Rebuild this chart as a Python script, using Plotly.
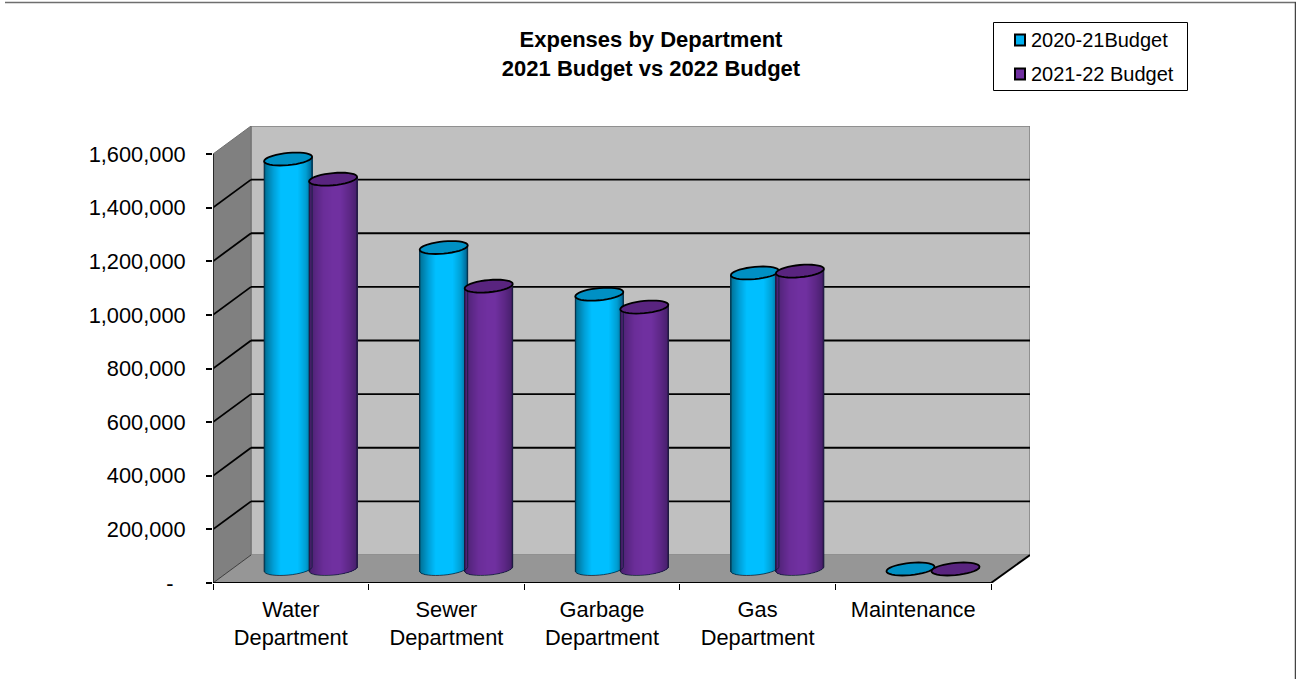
import math
import plotly.graph_objects as go

# ---- data ----
categories = ["Water<br>Department", "Sewer<br>Department", "Garbage<br>Department", "Gas<br>Department", "Maintenance"]
budget_2021 = [1529000, 1199000, 1025000, 1104000, 0]
budget_2022 = [1454000, 1055000, 977000, 1111000, 0]
series_names = ["2020-21Budget", "2021-22 Budget"]
y_ticks = [0, 200000, 400000, 600000, 800000, 1000000, 1200000, 1400000, 1600000]
y_labels = ["-\u00a0\u00a0", "200,000", "400,000", "600,000", "800,000", "1,000,000", "1,200,000", "1,400,000", "1,600,000"]

# ---- geometry of the mock 3D box (pixels) ----
W, H = 1296, 679
FRONT_L, FRONT_R, BACK_R = 213, 991, 1030
BOTTOM, TOP_FRONT, TOP_BACK = 583, 154, 126
DEPTH_Y = BOTTOM - 555          # floor depth, vertical
DEPTH_X = 251 - FRONT_L         # floor depth, horizontal
CYL_SHIFT_X, CYL_SHIFT_Y = 19.8, 14
CYL_A, CYL_B, CYL_TILT = 24, 6.1, 2.2
CYL_OFFSET = 22.5

PX_PER_CAT = (FRONT_R - FRONT_L) / len(categories)
UNITS_PER_PX = y_ticks[-1] / (BOTTOM - TOP_FRONT)
x_range = [-0.5, -0.5 + (BACK_R - FRONT_L) / PX_PER_CAT]
y_range = [0, (BOTTOM - TOP_BACK) * UNITS_PER_PX]
shift_x = CYL_SHIFT_X / PX_PER_CAT
shift_y = CYL_SHIFT_Y * UNITS_PER_PX
depth_x = DEPTH_X / PX_PER_CAT
depth_y = DEPTH_Y * UNITS_PER_PX

FONT = "Liberation Sans, Arial, sans-serif"
TICK_SIZE = 21.8

BLUE_STOPS = [(-1, "#004f6c"), (-0.9, "#0078a0"), (-0.6, "#00a0d8"), (-0.3, "#00bfff"),
              (0.4, "#00bfff"), (0.75, "#009ed2"), (0.95, "#0070a0"), (1, "#004e6c")]
PURPLE_STOPS = [(-1, "#361850"), (-0.9, "#4e2275"), (-0.4, "#6a2d98"), (0, "#7030a0"),
                (0.3, "#7030a0"), (0.7, "#5c2785"), (0.95, "#4a2070"), (1, "#361850")]
CAP_COLORS = ["#0090c4", "#59247f"]


def mix(stops, u):
    for (u0, c0), (u1, c1) in zip(stops, stops[1:]):
        if u <= u1:
            t = (u - u0) / (u1 - u0)
            a = [int(c0[i:i + 2], 16) for i in (1, 3, 5)]
            b = [int(c1[i:i + 2], 16) for i in (1, 3, 5)]
            return "rgb(%d,%d,%d)" % tuple(round(p + (q - p) * t) for p, q in zip(a, b))
    return stops[-1][1]


def px(v):
    return (v - FRONT_L) / (BACK_R - FRONT_L)


def py(v):
    return (BOTTOM - v) / (BOTTOM - TOP_BACK)


def cylinder_trace(name, values, side, stops):
    n = 48
    xs, ys, bases, offs, wids, cols = [], [], [], [], [], []
    step = 2 * CYL_A / n / PX_PER_CAT
    for i, v in enumerate(values):
        for k in range(n):
            u = -1 + (2 * k + 1) / n
            lift = CYL_TILT * u * UNITS_PER_PX
            low = CYL_B * math.sqrt(1 - u * u) * UNITS_PER_PX
            xs.append(i)
            bases.append(lift - low)
            ys.append(v + lift - (lift - low))
            offs.append(side * CYL_OFFSET / PX_PER_CAT + u * CYL_A / PX_PER_CAT - step / 2)
            wids.append(step)
            cols.append(mix(stops, u))
    return go.Bar(name=name, x=xs, y=ys, base=bases, offset=offs, width=wids,
                  marker=dict(color=cols, line=dict(width=0)),
                  xaxis="x2", yaxis="y2", showlegend=False, hoverinfo="skip")


def cap_path(i, v, side):
    cx = i + side * CYL_OFFSET / PX_PER_CAT
    pts = []
    for d in range(0, 360, 10):
        th = math.radians(d)
        pts.append((cx + CYL_A * math.cos(th) / PX_PER_CAT,
                    v + (CYL_B * math.sin(th) + CYL_TILT * math.cos(th)) * UNITS_PER_PX))
    return "M" + " L".join(f"{a:.5f},{b:.1f}" for a, b in pts) + " Z"


def outline_path(i, v, side):
    cx = i + side * CYL_OFFSET / PX_PER_CAT
    pts = [(cx - CYL_A / PX_PER_CAT, v - CYL_TILT * UNITS_PER_PX)]
    for d in range(180, 361, 10):
        th = math.radians(d)
        pts.append((cx + CYL_A * math.cos(th) / PX_PER_CAT,
                    (CYL_B * math.sin(th) + CYL_TILT * math.cos(th)) * UNITS_PER_PX))
    pts.append((cx + CYL_A / PX_PER_CAT, v + CYL_TILT * UNITS_PER_PX))
    return "M" + " L".join(f"{a:.5f},{b:.1f}" for a, b in pts)


fig = go.Figure()
# the front axes carry the tick labels: an empty trace keeps them alive
fig.add_trace(go.Scatter(x=list(range(len(categories))), y=budget_2021, mode="none",
                         xaxis="x", yaxis="y", showlegend=False, hoverinfo="skip"))
fig.add_trace(cylinder_trace(series_names[0], budget_2021, -1, BLUE_STOPS))
fig.add_trace(cylinder_trace(series_names[1], budget_2022, 1, PURPLE_STOPS))

shapes = []
xl, xr = x_range[0], x_range[0] + (FRONT_R - FRONT_L) / PX_PER_CAT
yb = 0
ytf = y_ticks[-1]

# walls and floor
shapes.append(dict(type="rect", x0=xl + depth_x, x1=x_range[1], y0=depth_y, y1=y_range[1],
                   fillcolor="#c0c0c0", line=dict(color="#808080", width=1.5), layer="below"))
shapes.append(dict(type="path", path=f"M{xl},{yb} L{xl + depth_x},{depth_y} L{xl + depth_x},{y_range[1]} L{xl},{ytf} Z",
                   fillcolor="#808080", line=dict(color="#707070", width=1), layer="below"))
shapes.append(dict(type="path", path=f"M{xl},{yb} L{xl + depth_x},{depth_y} L{x_range[1]},{depth_y} L{xr},{yb} Z",
                   fillcolor="#969696", line=dict(width=0), layer="below"))
# grid lines on back and side wall
for t in y_ticks[1:-1]:
    shapes.append(dict(type="line", x0=xl + depth_x, x1=x_range[1], y0=t + depth_y, y1=t + depth_y,
                       line=dict(color="#000000", width=1.8), layer="below"))
    shapes.append(dict(type="line", x0=xl, x1=xl + depth_x, y0=t, y1=t + depth_y,
                       line=dict(color="#000000", width=1.8), layer="below"))
# box edges
shapes.append(dict(type="line", x0=xl, x1=xl + depth_x, y0=0, y1=depth_y, line=dict(color="#404040", width=1), layer="below"))
shapes.append(dict(type="line", x0=xr, x1=x_range[1], y0=0, y1=depth_y, line=dict(color="#000000", width=2), layer="below"))
shapes.append(dict(type="line", x0=xl, x1=xl, y0=0, y1=ytf, line=dict(color="#202020", width=1.8), layer="below"))
shapes.append(dict(type="line", x0=xl, x1=xr, y0=0, y1=0, line=dict(color="#000000", width=2), layer="below"))

# cylinder outlines and caps, in the shifted axes
for side, values, color in ((-1, budget_2021, CAP_COLORS[0]), (1, budget_2022, CAP_COLORS[1])):
    for i, v in enumerate(values):
        if v > 0:
            shapes.append(dict(type="path", path=outline_path(i, v, side), xref="x2", yref="y2",
                               line=dict(color="rgba(10,30,50,0.75)", width=1), layer="above"))
        shapes.append(dict(type="path", path=cap_path(i, v, side), xref="x2", yref="y2",
                           fillcolor=color, line=dict(color="#000000", width=1.8), layer="above"))

# outer frame, top and right only
shapes.append(dict(type="line", xref="paper", yref="paper", x0=px(5), x1=px(W), y0=py(2.5), y1=py(2.5),
                   line=dict(color="#6e6e6e", width=1.5)))
shapes.append(dict(type="line", xref="paper", yref="paper", x0=px(W - 0.5), x1=px(W - 0.5), y0=py(2), y1=py(H),
                   line=dict(color="#444444", width=1.5)))

# legend box
shapes.append(dict(type="rect", xref="paper", yref="paper", x0=px(993.5), x1=px(1187.5), y0=py(22.5), y1=py(90.5),
                   fillcolor="#ffffff", line=dict(color="#000000", width=1)))
annotations = []
for name, color, cy in zip(series_names, ["#00b0f0", "#7030a0"], [40, 74]):
    shapes.append(dict(type="rect", xref="paper", yref="paper", x0=px(1015), x1=px(1025), y0=py(cy - 5.5), y1=py(cy + 5.5),
                       fillcolor=color, line=dict(color="#000000", width=2)))
    annotations.append(dict(xref="paper", yref="paper", x=px(1030), y=py(cy), text=name, showarrow=False,
                            xanchor="left", yanchor="middle", xshift=-1, font=dict(family=FONT, size=20, color="#000000")))

fig.update_layout(
    width=W, height=H, autosize=False,
    paper_bgcolor="#ffffff", plot_bgcolor="#ffffff",
    margin=dict(l=FRONT_L, r=W - BACK_R, t=TOP_BACK, b=H - BOTTOM, pad=0),
    barmode="overlay", bargap=0, showlegend=False,
    font=dict(family=FONT, size=TICK_SIZE, color="#000000"),
    title=dict(text="Expenses by Department<br>2021 Budget vs 2022 Budget",
               x=651 / W, xanchor="center", y=1 - 47 / H, yanchor="middle",
               font=dict(family=FONT, size=22, color="#000000", weight="bold")),
    xaxis=dict(range=x_range, tickmode="array", tickvals=list(range(len(categories))), ticktext=categories,
               ticks="", showline=False, showgrid=False, zeroline=False, ticklabelstandoff=11,
               tickfont=dict(family=FONT, size=TICK_SIZE, color="#000000"),
               minor=dict(tickmode="array", tickvals=[i - 0.5 for i in range(len(categories) + 1)],
                          ticks="outside", ticklen=6, tickwidth=1, tickcolor="#000000", showgrid=False)),
    yaxis=dict(range=y_range, tickmode="array", tickvals=y_ticks, ticktext=y_labels,
               ticks="outside", ticklen=6, tickwidth=1.5, tickcolor="#000000", showline=False, showgrid=False,
               zeroline=False, ticklabelstandoff=16, tickfont=dict(family=FONT, size=TICK_SIZE, color="#000000")),
    xaxis2=dict(range=[x_range[0] - shift_x, x_range[1] - shift_x], overlaying="x", visible=False),
    yaxis2=dict(range=[y_range[0] - shift_y, y_range[1] - shift_y], overlaying="y", visible=False),
    shapes=shapes, annotations=annotations,
)

fig.write_html("out.html", config=dict(displayModeBar=False),
               post_script="document.body.style.margin='0';document.documentElement.style.overflow='hidden';")
